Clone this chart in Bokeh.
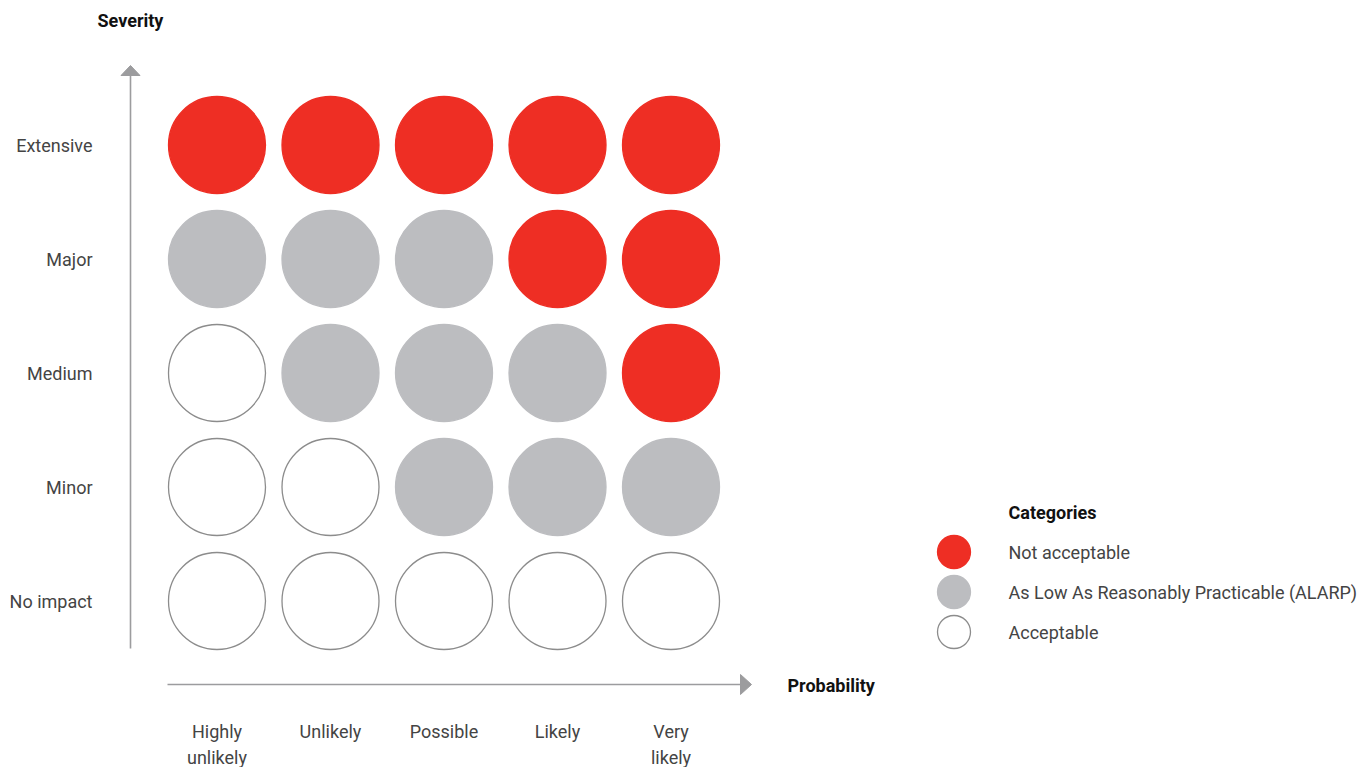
from bokeh.plotting import figure
from bokeh.models import Range1d, ColumnDataSource
from bokeh.core.properties import value
from bokeh.embed import file_html
from bokeh.resources import INLINE

# ---------------- data ----------------
probability = ["Highly\nunlikely", "Unlikely", "Possible", "Likely", "Very\nlikely"]
severity = ["No impact", "Minor", "Medium", "Major", "Extensive"]  # bottom -> top
# category per cell, rows bottom (No impact) -> top (Extensive), columns left -> right
matrix = [
    ["Acceptable", "Acceptable", "Acceptable", "Acceptable", "Acceptable"],
    ["Acceptable", "Acceptable", "ALARP", "ALARP", "ALARP"],
    ["Acceptable", "ALARP", "ALARP", "ALARP", "Not acceptable"],
    ["ALARP", "ALARP", "ALARP", "Not acceptable", "Not acceptable"],
    ["Not acceptable", "Not acceptable", "Not acceptable", "Not acceptable", "Not acceptable"],
]
categories = ["Not acceptable", "ALARP", "Acceptable"]
category_labels = ["Not acceptable", "As Low As Reasonably Practicable (ALARP)", "Acceptable"]
category_fill = ["#EE2E24", "#BCBDC0", "#FFFFFF"]
category_line = ["#EE2E24", "#BCBDC0", "#8C8C8C"]
x_title = "Probability"
y_title = "Severity"
legend_title = "Categories"

# ---------------- layout constants ----------------
W, H = 1360, 767
PX_X = 113.5      # pixels per column
PX_Y = 114.0      # pixels per row
X0 = 216.5        # px of column 0 centre (from left)
Y0 = 600.5        # px of row 0 centre (from top)
FONT = value("Roboto")
FS = "18px"
TXT = "#444444"
TITLE = "#111111"
AX = "#9C9C9E"


def dx(px):  # px from left -> data x
    return (px - X0) / PX_X


def dy(px):  # px from top -> data y
    return (Y0 - px) / PX_Y


p = figure(width=W, height=H, output_backend="svg", toolbar_location=None,
           x_range=Range1d(dx(0), dx(W)), y_range=Range1d(dy(H), dy(0)),
           min_border=0, outline_line_color=None)
p.axis.visible = False
p.grid.visible = False
p.background_fill_color = "white"
p.border_fill_color = "white"

# ---------------- matrix cells ----------------
xs, ys, fills, lines = [], [], [], []
for r, row in enumerate(matrix):
    for c, cat in enumerate(row):
        k = categories.index(cat)
        xs.append(c)
        ys.append(r)
        fills.append(category_fill[k])
        lines.append(category_line[k])
src = ColumnDataSource(dict(x=xs, y=ys, fill=fills, line=lines))
p.scatter("x", "y", source=src, size=97, fill_color="fill", line_color="line", line_width=1.3)

# ---------------- axes (arrows) ----------------
vx = dx(130)
p.line([vx, vx], [dy(648), dy(74)], line_color=AX, line_width=1.6)
p.patch([vx - 9.5 / PX_X, vx, vx + 9.5 / PX_X], [dy(75), dy(65), dy(75)], fill_color=AX, line_color=AX)
hy = dy(684)
p.line([dx(167), dx(741)], [hy, hy], line_color=AX, line_width=1.6)
p.patch([dx(740), dx(751), dx(740)], [hy + 10 / PX_Y, hy, hy - 10 / PX_Y], fill_color=AX, line_color=AX)

# ---------------- tick labels ----------------
p.text(x=[dx(92)] * len(severity), y=list(range(len(severity))), text=severity,
       text_font=FONT, text_font_size=FS, text_color=TXT,
       text_align="right", text_baseline="middle")

first = [s.split("\n")[0] for s in probability]
second = [s.split("\n")[1] if "\n" in s else "" for s in probability]
p.text(x=list(range(len(probability))), y=[dy(731)] * len(probability), text=first,
       text_font=FONT, text_font_size=FS, text_color=TXT,
       text_align="center", text_baseline="middle")
p.text(x=list(range(len(probability))), y=[dy(757)] * len(probability), text=second,
       text_font=FONT, text_font_size=FS, text_color=TXT,
       text_align="center", text_baseline="middle")

# ---------------- titles ----------------
p.text(x=[dx(97)], y=[dy(20)], text=[y_title], text_font=FONT, text_font_size=FS,
       text_font_style="bold", text_color=TITLE, text_align="left", text_baseline="middle")
p.text(x=[dx(787)], y=[dy(685)], text=[x_title], text_font=FONT, text_font_size=FS,
       text_font_style="bold", text_color=TITLE, text_align="left", text_baseline="middle")

# ---------------- legend ----------------
p.text(x=[dx(1008)], y=[dy(512)], text=[legend_title], text_font=FONT, text_font_size=FS,
       text_font_style="bold", text_color=TITLE, text_align="left", text_baseline="middle")
ly = [dy(551.5 + 40 * i) for i in range(len(categories))]
p.scatter([dx(953.5)] * len(categories), ly, size=33, fill_color=category_fill,
          line_color=category_line, line_width=1.3)
p.text(x=[dx(1008)] * len(categories), y=ly, text=category_labels, text_font=FONT,
       text_font_size=FS, text_color=TXT, text_align="left", text_baseline="middle")

open("out.html", "w").write(file_html(p, INLINE))
